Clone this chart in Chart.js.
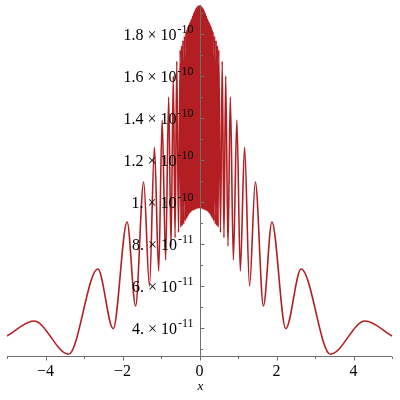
<!DOCTYPE html>
<html>
<head>
<meta charset="utf-8">
<script src="https://cdn.jsdelivr.net/npm/chart.js@4.4.0/dist/chart.umd.min.js"></script>
<style>
  html, body { margin: 0; padding: 0; background: #fff; }
</style>
</head>
<body>
<canvas id="plot" width="400" height="400"></canvas>
<script>
// curve: peaks and troughs, y in units of 1e-11
const xVals = [
  -5.00, -4.30, -3.40, -2.64, -2.24, -1.88, -1.66, -1.45, -1.30, -1.17,
  -1.06, -0.97, -0.88, -0.80, -0.74, -0.68, -0.635, -0.59, -0.545, -0.50,
  -0.483, -0.465, -0.448, -0.43, -0.41, -0.39, -0.37, -0.35,
  -0.3375, -0.325, -0.3125, -0.30, -0.2875, -0.275, -0.2625, -0.25,
  -0.2375, -0.225, -0.2125, -0.20, -0.1875, -0.175, -0.1625, -0.15,
  -0.1375, -0.125, -0.1125, -0.10, -0.0875, -0.075, -0.0625, -0.05,
  -0.0375, -0.025, -0.0125, 0,
  0.0125, 0.025, 0.0375, 0.05, 0.0625, 0.075, 0.0875, 0.10,
  0.1125, 0.125, 0.1375, 0.15, 0.1625, 0.175, 0.1875, 0.20,
  0.2125, 0.225, 0.2375, 0.25, 0.2625, 0.275, 0.2875, 0.30,
  0.3125, 0.325, 0.3375, 0.35,
  0.37, 0.39, 0.41, 0.43, 0.448, 0.465, 0.483, 0.50,
  0.545, 0.59, 0.635, 0.68, 0.74, 0.80, 0.88, 0.97, 1.06, 1.17,
  1.30, 1.45, 1.66, 1.88, 2.24, 2.64, 3.40, 4.30, 5.00
];
const yVals = [
  3.62, 4.33, 2.75, 6.81, 3.97, 9.05, 5.05, 10.95, 6.00, 12.60,
  6.72, 13.90, 7.25, 15.00, 7.90, 16.00, 8.30, 16.70, 8.55, 17.24,
  8.80, 17.45, 8.88, 17.70, 8.95, 17.90, 9.10, 18.10,
  9.20, 18.22, 9.30, 18.35, 9.38, 18.45, 9.45, 18.55,
  9.50, 18.65, 9.55, 18.75, 9.58, 18.88, 9.60, 19.00,
  9.62, 19.10, 9.64, 19.20, 9.66, 19.27, 9.68, 19.33,
  9.69, 19.36, 9.70, 19.38,
  9.70, 19.36, 9.69, 19.33, 9.68, 19.27, 9.66, 19.20,
  9.64, 19.10, 9.62, 19.00, 9.60, 18.88, 9.58, 18.75,
  9.55, 18.65, 9.50, 18.55, 9.45, 18.45, 9.38, 18.35,
  9.30, 18.22, 9.20, 18.10,
  9.10, 17.90, 8.95, 17.70, 8.88, 17.45, 8.80, 17.24,
  8.55, 16.70, 8.30, 16.00, 7.90, 15.00, 7.25, 13.90, 6.72, 12.60,
  6.00, 10.95, 5.05, 9.05, 3.97, 6.81, 2.75, 4.33, 3.62
];

// axis ticks
const xMajor = [-4, -2, 0, 2, 4];
const xMinor = [-5, -3, -1, 1, 3, 5];
const xLabels = ['\u22124', '\u22122', '0', '2', '4'];
const yMajor = [4, 6, 8, 10, 12, 14, 16, 18];
const yMinor = [3, 5, 7, 9, 11, 13, 15, 17, 19];
const yMantissa = ['4.', '6.', '8.', '1.', '1.2', '1.4', '1.6', '1.8'];
const yExponent = ['-11', '-11', '-11', '-10', '-10', '-10', '-10', '-10'];

const curveColor = 'rgb(178,30,34)';
const axisColor = '#6f6f6f';

// Maple-like axes: x axis along bottom, y axis through x = 0
const mapleAxes = {
  id: 'mapleAxes',
  afterDatasetsDraw(chart) {
    const ctx = chart.ctx;
    const sx = chart.scales.x, sy = chart.scales.y;
    const area = chart.chartArea;
    const x0 = Math.round(sx.getPixelForValue(0)) + 0.5;
    const yb = Math.round(area.bottom) + 0.5;

    ctx.save();
    ctx.strokeStyle = axisColor;
    ctx.lineWidth = 1;
    ctx.beginPath();
    ctx.moveTo(area.left, yb);
    ctx.lineTo(area.right, yb);
    ctx.moveTo(x0, area.top);
    ctx.lineTo(x0, yb);
    xMajor.forEach(v => {
      const p = Math.round(sx.getPixelForValue(v)) + 0.5;
      ctx.moveTo(p, yb); ctx.lineTo(p, yb + 4);
    });
    xMinor.forEach(v => {
      const p = Math.round(sx.getPixelForValue(v)) + 0.5;
      ctx.moveTo(p, yb); ctx.lineTo(p, yb + 2.5);
    });
    yMajor.forEach(v => {
      const p = Math.round(sy.getPixelForValue(v)) + 0.5;
      ctx.moveTo(x0, p); ctx.lineTo(x0 + 4, p);
    });
    yMinor.forEach(v => {
      const p = Math.round(sy.getPixelForValue(v)) + 0.5;
      ctx.moveTo(x0, p); ctx.lineTo(x0 + 2.5, p);
    });
    ctx.stroke();

    ctx.fillStyle = '#000';
    ctx.font = '16px "Liberation Serif"';
    ctx.textAlign = 'center';
    ctx.textBaseline = 'middle';
    xMajor.forEach((v, i) => {
      ctx.fillText(xLabels[i], sx.getPixelForValue(v), yb + 15);
    });

    // y labels: mantissa x 10 with raised exponent
    yMajor.forEach((v, i) => {
      const p = sy.getPixelForValue(v);
      const expRight = x0 - 7;
      ctx.font = '12px "Liberation Serif"';
      ctx.textAlign = 'right';
      ctx.textBaseline = 'alphabetic';
      const expW = ctx.measureText(yExponent[i]).width;
      ctx.fillText(yExponent[i], expRight, p - 1);
      ctx.font = '16px "Liberation Serif"';
      ctx.fillText(yMantissa[i] + ' \u00d7 10', expRight - expW - 1, p + 6);
    });

    ctx.font = 'italic 13px "Liberation Serif"';
    ctx.textAlign = 'center';
    ctx.textBaseline = 'middle';
    ctx.fillText('x', x0, yb + 30);
    ctx.restore();
  }
};

const points = xVals.map((x, i) => ({ x: x, y: yVals[i] }));

new Chart(document.getElementById('plot').getContext('2d'), {
  type: 'line',
  data: {
    datasets: [{
      data: points,
      borderColor: curveColor,
      borderWidth: 1.6,
      pointRadius: 0,
      fill: false,
      cubicInterpolationMode: 'monotone'
    }]
  },
  options: {
    responsive: false,
    animation: false,
    layout: { padding: { left: 7, right: 8, top: 5, bottom: 44 } },
    plugins: { legend: { display: false }, tooltip: { enabled: false } },
    scales: {
      x: { type: 'linear', min: -5, max: 5, display: false },
      y: { type: 'linear', min: 2.667, max: 19.38, display: false }
    }
  },
  plugins: [mapleAxes]
});
</script>
</body>
</html>
